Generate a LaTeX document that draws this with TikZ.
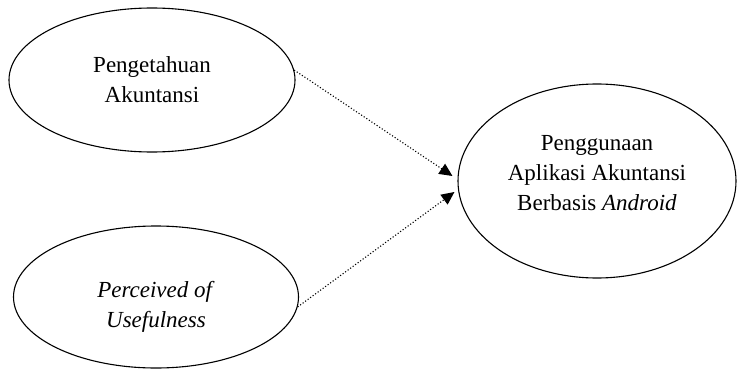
\documentclass[tikz,border=0pt]{standalone}
\usepackage{fontspec}
\setmainfont{Liberation Serif}
\newfontfamily\tnrfont{Liberation Serif}
\usetikzlibrary{shapes.geometric,arrows.meta}
\begin{document}
\begin{tikzpicture}[x=1pt,y=-1pt,
  var/.style={draw,ellipse,line width=1.1pt,inner sep=0pt,align=center,
    font=\tnrfont\fontsize{23}{30}\selectfont},
  link/.style={-{Triangle[length=13pt,width=12pt]},dotted,line width=1.1pt}]
  \useasboundingbox (0,0) rectangle (738,369);
  \node [var,minimum width=286pt,minimum height=144pt] (pa) at (152,80)
    {Pengetahuan\\Akuntansi};
  \node [var,minimum width=285pt,minimum height=142pt] (pu) at (156,297)
    {\textit{Perceived of}\\\textit{Usefulness}\\[-44pt]};
  \node [var,minimum width=278pt,minimum height=194pt] (pg) at (597,181)
    {Penggunaan\\Aplikasi Akuntansi\\Berbasis \textit{Android}\\[-14pt]};
  \draw [link] (pa.4) -- ([xshift=-5pt,yshift=5pt]pg.west);
  \draw [link] (pu.-4) -- ([xshift=-3pt,yshift=-11pt]pg.west);
\end{tikzpicture}
\end{document}
